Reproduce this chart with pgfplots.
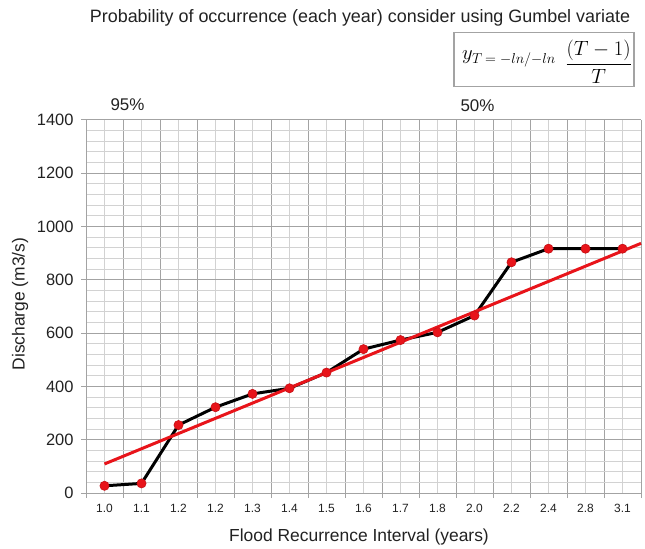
\documentclass[border=0pt]{standalone}
\usepackage{pgfplots}
\pgfplotsset{compat=1.18}
\usepackage{fontspec}
\setmainfont{Liberation Sans}

\definecolor{majorgrid}{HTML}{A3A3A3}
\definecolor{minorgrid}{HTML}{D2D2D2}
\definecolor{txt}{HTML}{222222}
\definecolor{trend}{HTML}{E8141A}
\definecolor{dot}{HTML}{E8141A}

% discharge for each ranked recurrence interval (category index, m3/s)
\pgfplotstableread{
idx q
0  27
1  36
2  255
3  322
4  372
5  393
6  452
7  540
8  574
9  603
10 666
11 866
12 917
13 917
14 917
}\flooddata

% fitted Gumbel line
\pgfplotstableread{
idx q
0    109
14.5 937
}\fitline

\begin{document}
\begin{tikzpicture}[x=1bp,y=1bp]
\path (0,0) rectangle (645,547);

\begin{axis}[
  at={(86bp,54bp)}, anchor=south west,
  scale only axis, width=555bp, height=373bp,
  xmin=-0.5, xmax=14.5, ymin=0, ymax=1400,
  xtick={0,...,14},
  xticklabels={1.0,1.1,1.2,1.2,1.3,1.4,1.5,1.6,1.7,1.8,2.0,2.2,2.4,2.8,3.1},
  minor xtick={-0.5,0.5,...,14.5},
  ytick={0,200,...,1400},
  minor y tick num=4,
  grid=both,
  major x grid style={minorgrid, line width=1bp},
  minor x grid style={majorgrid, line width=1bp},
  major y grid style={majorgrid, line width=1bp},
  minor y grid style={minorgrid, line width=1bp},
  axis lines*=left,
  axis line style={majorgrid, line width=1bp},
  tick align=outside,
  major tick length=5bp, minor tick length=5bp,
  major x tick style={draw=none},
  minor y tick style={draw=none},
  major y tick style={majorgrid, line width=1bp},
  minor x tick style={majorgrid, line width=1bp},
  /pgf/number format/assume math mode=true,
  /pgf/number format/set thousands separator={},
  yticklabel style={font=\fontsize{16.5}{18}\selectfont, text=txt, xshift=-4bp},
  xticklabel style={font=\fontsize{12}{14}\selectfont, text=txt, yshift=-3bp},
  clip=false,
]
\addplot[black, line width=3bp] table[x=idx, y=q] {\flooddata};
\addplot[trend, line width=3bp] table[x=idx, y=q] {\fitline};
\addplot[only marks, mark=*, mark size=4.6bp, mark options={fill=dot, draw=dot!85!black, line width=0.6bp}] table[x=idx, y=q] {\flooddata};
\end{axis}

% title
\node[text=txt, font=\fontsize{18}{20}\selectfont] at (360,529) {Probability of occurrence (each year) consider using Gumbel variate};

% Gumbel reduced variate formula in a framed box
\draw[majorgrid, line width=1.2bp] (454,460.3) rectangle (634,514.3);
\node[anchor=base west, inner sep=0pt] at (462,487) {\fontsize{21}{24}\selectfont$y_T$};
\node[anchor=west, inner sep=0pt] at (485,487.5) {\fontsize{14}{16}\selectfont$=-ln/{-ln}$};
\node[anchor=east, inner sep=0pt] at (632,485.3) {\fontsize{20}{24}\selectfont$\displaystyle\frac{(T-1)}{T}$};

% probability markers
\node[text=txt, font=\fontsize{17}{20}\selectfont] at (127.5,442) {95\%};
\node[text=txt, font=\fontsize{17}{20}\selectfont] at (477.5,441) {50\%};

% axis titles
\node[text=txt, font=\fontsize{17.5}{20}\selectfont, rotate=90] at (20,243) {Discharge (m3/s)};
\node[text=txt, font=\fontsize{17.5}{20}\selectfont] at (359,10) {Flood Recurrence Interval (years)};
\end{tikzpicture}
\end{document}
